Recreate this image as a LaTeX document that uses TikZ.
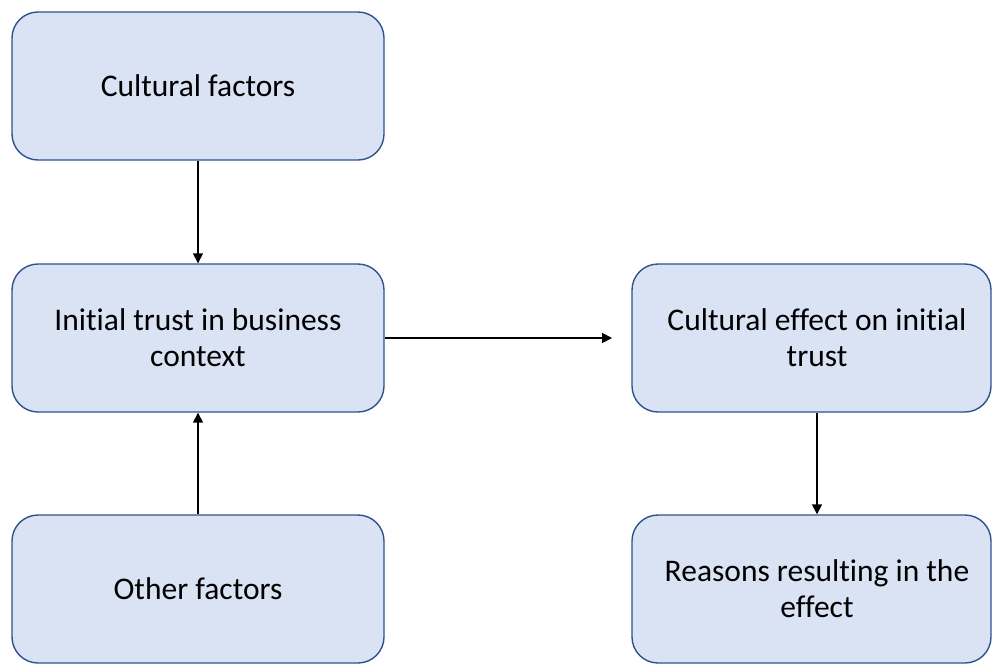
\documentclass[tikz,border=0pt]{standalone}
\usepackage{fontspec}
\setmainfont{Carlito}[Ligatures=NoCommon]
\usetikzlibrary{arrows.meta}
\definecolor{boxfill}{HTML}{DAE3F3}
\definecolor{boxline}{HTML}{2F528F}
\begin{document}
\begin{tikzpicture}[x=1pt,y=-1pt,
  box/.style={draw=boxline, fill=boxfill, line width=1.4pt, rounded corners=26pt,
    minimum height=148pt, inner sep=0pt},
  lbox/.style={box, minimum width=372pt},
  rbox/.style={box, minimum width=359pt},
  txt/.style={font=\fontsize{31.5}{36}\selectfont, align=center, inner sep=0pt},
  link/.style={line width=1.5pt, -{Triangle[length=10pt,width=10pt]}}]
\useasboundingbox (0,0) rectangle (992,664);
% left column
\node[lbox] (cf) at (198,86) {};
\node[txt] (cft) at (cf.center) {Cultural factors};
\node[lbox] (it) at (198,338) {};
\node[txt] (itt) at (it.center) {Initial trust in business\\context};
\node[lbox] (of) at (198,589) {};
\node[txt] (oft) at (of.center) {Other factors};
% right column
\node[rbox] (ce) at (811.5,338) {};
\node[txt] (cet) at (817,338) {Cultural effect on initial\\trust};
\node[rbox] (re) at (811.5,589) {};
\node[txt] (ret) at (817,589) {Reasons resulting in the\\effect};
% connectors
\coordinate (rend) at (612,338);
\draw[link] (cf.south) -- (it.north);
\draw[link] (of.north) -- (it.south);
\draw[link] (it.east) -- (rend);
\draw[link] (ce.south -| cet.center) -- (re.north -| cet.center);
\end{tikzpicture}
\end{document}
